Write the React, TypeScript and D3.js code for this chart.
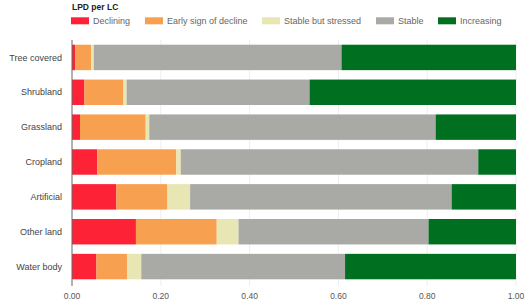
import React from "react";
import * as d3 from "d3";

const categories = ["Tree covered", "Shrubland", "Grassland", "Cropland", "Artificial", "Other land", "Water body"];
const seriesNames = ["Declining", "Early sign of decline", "Stable but stressed", "Stable", "Increasing"];
const declining = [0.007, 0.028, 0.018, 0.057, 0.1, 0.144, 0.055];
const earlySign = [0.036, 0.088, 0.148, 0.178, 0.115, 0.182, 0.069];
const stableStressed = [0.006, 0.007, 0.008, 0.01, 0.051, 0.049, 0.032];
const stable = [0.558, 0.412, 0.645, 0.67, 0.589, 0.428, 0.459];
const increasing = [0.393, 0.465, 0.181, 0.085, 0.145, 0.197, 0.385];
const xTicks = [0, 0.2, 0.4, 0.6, 0.8, 1.0];
const colors = ["#fe2237", "#f7a04f", "#e8e6b2", "#a9aaa6", "#007020"];

export default function App() {
  const W = 525, H = 303;
  const x = d3.scaleLinear().domain([0, 1]).range([72, 516]);
  const y = d3.scaleBand<string>().domain(categories).range([40, 284]).paddingInner(0.27).paddingOuter(0.135);
  const rows = categories.map((c, i) => ({
    cat: c,
    v0: declining[i], v1: earlySign[i], v2: stableStressed[i], v3: stable[i], v4: increasing[i],
  }));
  const stack = d3.stack<any>().keys(["v0", "v1", "v2", "v3", "v4"])(rows);
  const legendX = [71, 145, 262, 376, 438];
  const font = "Liberation Sans, Arial, Helvetica, sans-serif";
  return (
    <svg width={W} height={H} style={{ position: "absolute", left: 0, top: 0, background: "#fff" }} fontFamily={font}>
      <text x={72} y={9.5} fontSize={8.5} fontWeight="bold" fill="#222">LPD per LC</text>
      {seriesNames.map((s, i) => (
        <g key={s}>
          <rect x={legendX[i]} y={17.3} width={18} height={7} fill={colors[i]} />
          <text x={legendX[i] + 22} y={23.8} fontSize={9} fill="#666">{s}</text>
        </g>
      ))}
      {xTicks.slice(1).map((t) => (
        <line key={t} x1={x(t)} x2={x(t)} y1={40} y2={286} stroke="#eeeeee" strokeWidth={1} />
      ))}
      {stack.map((layer, li) => (
        <g key={li}>
          {layer.map((d, j) => (
            <rect key={j} x={x(d[0])} y={y(categories[j])} width={Math.max(0, x(d[1]) - x(d[0]))}
              height={y.bandwidth()} fill={colors[li]} />
          ))}
        </g>
      ))}
      <line x1={72} x2={72} y1={40} y2={286} stroke="#666" strokeWidth={1} />
      {categories.map((c) => (
        <text key={c} x={62} y={(y(c) as number) + y.bandwidth() / 2} dy="0.35em" textAnchor="end" fontSize={9} fill="#444">{c}</text>
      ))}
      {xTicks.map((t) => (
        <text key={t} x={x(t)} y={298.5} textAnchor="middle" fontSize={8.5} fill="#555">{d3.format(".2f")(t)}</text>
      ))}
    </svg>
  );
}
